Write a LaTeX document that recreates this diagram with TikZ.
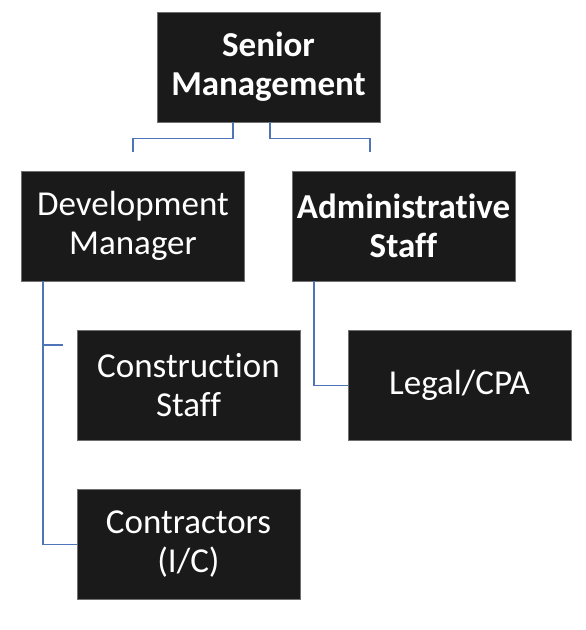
\documentclass[tikz,border=0pt]{standalone}
\usepackage{fontspec}
\setmainfont[Ligatures=NoCommon]{Carlito}
\usepackage{tikz}
\usetikzlibrary{calc}

\definecolor{boxfill}{HTML}{1A1A1A}
\definecolor{boxline}{HTML}{707070}
\definecolor{linkblue}{HTML}{4F75B8}

\tikzset{
  orgbox/.style={draw=boxline, line width=0.8pt, fill=boxfill, text=white, minimum width=223pt, minimum height=110pt, inner sep=2pt, align=center, font=\fontsize{35}{39}\selectfont},
  orgboxbold/.style={orgbox, font=\fontsize{35}{39}\selectfont\bfseries},
  link/.style={draw=linkblue, line width=1.4pt}
}

\begin{document}
\begin{tikzpicture}[x=1pt,y=-1pt]
    \useasboundingbox (0,0) rectangle (586,630);

    \node[orgboxbold] (senior) at (268.5,67) {Senior\\Management};
    \node[orgbox] (dev) at (133,226) {Development\\Manager};
    \node[orgboxbold] (admin) at (403.5,226) {Administrative\\Staff};
    \node[orgbox] (construction) at (188.5,385.5) {Construction\\Staff};
    \node[orgbox] (legal) at (459.5,385.5) {Legal/CPA};
    \node[orgbox] (contractors) at (188.5,544.5) {Contractors\\(I/C)};

    \coordinate (devtop) at (133,152);
    \coordinate (admtop) at (370,152);
    \coordinate (devtrunk) at ([xshift=-90pt]dev.south);
    \coordinate (stub) at (63,345);

    \draw[link] ([xshift=-35.5pt]senior.south) -- ++(0,16) -| (devtop);
    \draw[link] ([xshift=1.5pt]senior.south) -- ++(0,16) -| (admtop);

    \draw[link] (devtrunk) |- (contractors.west);
    \draw[link] (devtrunk |- stub) -- (stub);
    \draw[link] ([xshift=-89.5pt]admin.south) |- (legal.west);
\end{tikzpicture}
\end{document}
